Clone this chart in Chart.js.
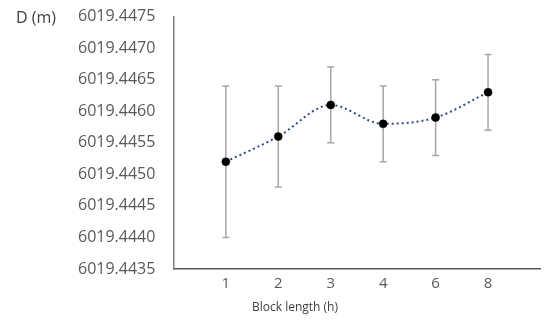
<!DOCTYPE html>
<html><head><meta charset="utf-8">
<script src="https://cdn.jsdelivr.net/npm/chart.js@4"></script>
<style>
html,body{margin:0;padding:0;background:#fff;}
#wrap{position:relative;width:545px;height:322px;}
#lbl{position:absolute;left:16px;top:6px;font:16px "Open Sans";color:#404040;}
#xt{position:absolute;left:252px;top:298px;font:12px "Open Sans";color:#404040;}
</style></head><body>
<div id="wrap"><canvas id="c" width="545" height="322"></canvas>
<div id="lbl">D (m)</div><div id="xt">Block length (h)</div></div>
<script>
const categories = ['1','2','3','4','6','8'];
const distance = [6019.4452, 6019.4456, 6019.4461, 6019.4458, 6019.4459, 6019.4463];
const errorPlusMinus = [0.0012, 0.0008, 0.0006, 0.0006, 0.0006, 0.0006];
const yTicks = [6019.4435, 6019.4440, 6019.4445, 6019.4450, 6019.4455, 6019.4460, 6019.4465, 6019.4470, 6019.4475];

const labels = [''].concat(categories, ['']);
const data = [null].concat(distance, [null]);
const errs = [null].concat(errorPlusMinus, [null]);

const errorBars = {
  id: 'errorBars',
  beforeDatasetsDraw(chart) {
    const ctx = chart.ctx, x = chart.scales.x, y = chart.scales.y;
    ctx.save();
    ctx.strokeStyle = '#a6a6a6';
    ctx.lineWidth = 1.5;
    data.forEach((v, i) => {
      if (v === null) return;
      const px = x.getPixelForValue(i);
      const top = y.getPixelForValue(v + errs[i]);
      const bot = y.getPixelForValue(v - errs[i]);
      ctx.beginPath();
      ctx.moveTo(px, top); ctx.lineTo(px, bot);
      ctx.moveTo(px - 3.5, top); ctx.lineTo(px + 3.5, top);
      ctx.moveTo(px - 3.5, bot); ctx.lineTo(px + 3.5, bot);
      ctx.stroke();
    });
    ctx.restore();
  }
};

new Chart(document.getElementById('c'), {
  type: 'line',
  data: { labels: labels, datasets: [{
    data: data,
    borderColor: '#2f4b8a', borderWidth: 2, borderDash: [2, 3],
    pointBackgroundColor: '#000', pointBorderColor: '#000', pointRadius: 4, pointBorderWidth: 0.5,
    spanGaps: false, tension: 0.15, cubicInterpolationMode: 'monotone'
  }]},
  options: {
    responsive: false, animation: false,
    plugins: { legend: { display: false }, tooltip: { enabled: false } },
    layout: { padding: { top: 0, right: 1, bottom: 23, left: 71 } },
    scales: {
      x: {
        offset: false,
        afterFit(axis) { axis.paddingRight = 0; },
        grid: { display: false, drawTicks: false },
        border: { color: '#595959', width: 1.5 },
        ticks: { color: '#595959', font: { family: 'Open Sans', size: 15 }, padding: 6, autoSkip: false, maxRotation: 0 }
      },
      y: {
        min: yTicks[0], max: yTicks[yTicks.length - 1],
        afterBuildTicks(axis) { axis.ticks = yTicks.map(v => ({ value: v })); },
        grid: { display: true, drawOnChartArea: false, drawTicks: true, tickLength: 11, tickColor: 'rgba(0,0,0,0)', color: 'rgba(0,0,0,0)' },
        border: { color: '#7f7f7f', width: 1.5 },
        ticks: { color: '#595959', font: { family: 'Open Sans', size: 16 }, padding: 7,
          callback: v => Number(v).toFixed(4) }
      }
    }
  },
  plugins: [errorBars]
});
</script></body></html>
